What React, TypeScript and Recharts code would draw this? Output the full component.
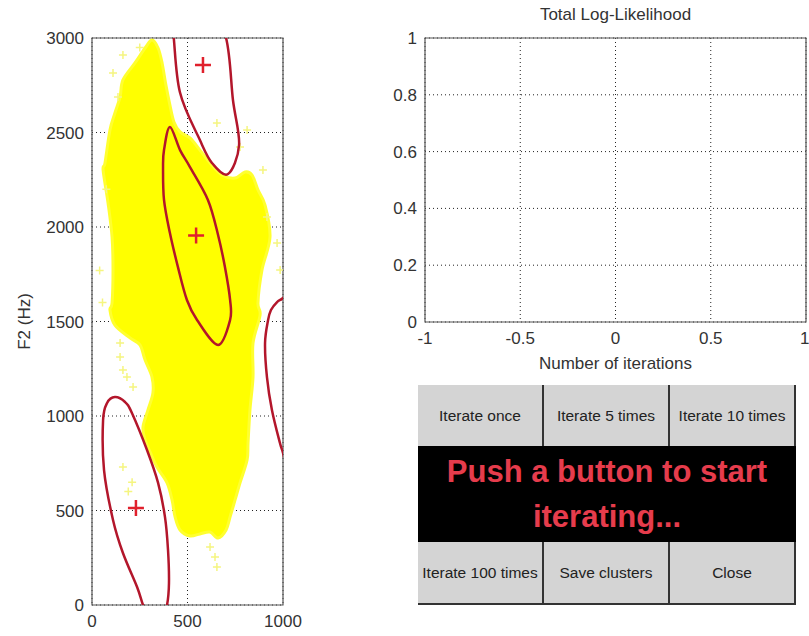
import { ScatterChart, Scatter, XAxis, YAxis, CartesianGrid, ReferenceArea } from 'recharts';

const f1Ticks = [0, 500, 1000];
const f2Ticks = [0, 500, 1000, 1500, 2000, 2500, 3000];
const iterTicks = [-1, -0.5, 0, 0.5, 1];
const llTicks = [0, 0.2, 0.4, 0.6, 0.8, 1];

// outline of the dense F1/F2 cloud (Hz)
const cloudOutline = [
  { f1: 314, f2: 2989 }, { f1: 346, f2: 2947 }, { f1: 367, f2: 2868 }, { f1: 387, f2: 2751 },
  { f1: 408, f2: 2645 }, { f1: 429, f2: 2556 }, { f1: 461, f2: 2503 }, { f1: 513, f2: 2471 },
  { f1: 565, f2: 2407 }, { f1: 618, f2: 2339 }, { f1: 681, f2: 2275 }, { f1: 749, f2: 2259 },
  { f1: 801, f2: 2291 }, { f1: 838, f2: 2275 }, { f1: 869, f2: 2196 }, { f1: 906, f2: 2116 },
  { f1: 932, f2: 1947 }, { f1: 890, f2: 1772 }, { f1: 869, f2: 1598 }, { f1: 880, f2: 1534 },
  { f1: 843, f2: 1386 }, { f1: 843, f2: 1206 }, { f1: 827, f2: 1032 }, { f1: 817, f2: 857 },
  { f1: 812, f2: 767 }, { f1: 775, f2: 646 }, { f1: 749, f2: 556 }, { f1: 723, f2: 466 },
  { f1: 702, f2: 397 }, { f1: 660, f2: 354 }, { f1: 618, f2: 386 }, { f1: 565, f2: 376 },
  { f1: 513, f2: 365 }, { f1: 461, f2: 397 }, { f1: 435, f2: 466 }, { f1: 419, f2: 556 },
  { f1: 393, f2: 646 }, { f1: 340, f2: 730 }, { f1: 304, f2: 810 }, { f1: 278, f2: 873 },
  { f1: 267, f2: 942 }, { f1: 293, f2: 1032 }, { f1: 319, f2: 1122 }, { f1: 314, f2: 1206 },
  { f1: 278, f2: 1296 }, { f1: 251, f2: 1376 }, { f1: 199, f2: 1413 }, { f1: 120, f2: 1481 },
  { f1: 94, f2: 1561 }, { f1: 105, f2: 1598 }, { f1: 110, f2: 1772 }, { f1: 105, f2: 1947 },
  { f1: 84, f2: 2127 }, { f1: 58, f2: 2302 }, { f1: 68, f2: 2339 }, { f1: 94, f2: 2513 },
  { f1: 120, f2: 2603 }, { f1: 147, f2: 2688 }, { f1: 162, f2: 2778 }, { f1: 225, f2: 2868 },
  { f1: 278, f2: 2947 },
];

// loose samples around the edge of the cloud
const strayPoints = [
  { f1: 110, f2: 2815 }, { f1: 162, f2: 2910 }, { f1: 136, f2: 2688 }, { f1: 654, f2: 2550 },
  { f1: 775, f2: 2423 }, { f1: 812, f2: 2513 }, { f1: 895, f2: 2302 }, { f1: 916, f2: 2053 },
  { f1: 969, f2: 1915 }, { f1: 985, f2: 1772 }, { f1: 40, f2: 1770 }, { f1: 55, f2: 1600 },
  { f1: 147, f2: 1386 }, { f1: 147, f2: 1312 }, { f1: 162, f2: 1243 }, { f1: 183, f2: 1206 },
  { f1: 215, f2: 1153 }, { f1: 162, f2: 730 }, { f1: 210, f2: 650 }, { f1: 190, f2: 600 },
  { f1: 618, f2: 307 }, { f1: 644, f2: 254 }, { f1: 654, f2: 201 }, { f1: 75, f2: 2200 },
  { f1: 250, f2: 2950 },
];

const clusterMeans = [
  { f1: 581, f2: 2857 },
  { f1: 545, f2: 1955 },
  { f1: 230, f2: 513 },
];

// cluster contours, points traced round each ellipse
const contour1 = [
  { f1: 712, f2: 2280 }, { f1: 770, f2: 2434 }, { f1: 738, f2: 2672 }, { f1: 702, f2: 3000 },
  { f1: 597, f2: 3254 }, { f1: 534, f2: 3375 }, { f1: 450, f2: 3434 }, { f1: 392, f2: 3280 },
  { f1: 424, f2: 3042 }, { f1: 460, f2: 2714 }, { f1: 565, f2: 2460 }, { f1: 628, f2: 2339 },
];
const contour2 = [
  { f1: 408, f2: 2529 }, { f1: 377, f2: 2407 }, { f1: 372, f2: 2317 }, { f1: 377, f2: 2143 },
  { f1: 408, f2: 1968 }, { f1: 450, f2: 1788 }, { f1: 497, f2: 1614 }, { f1: 550, f2: 1508 },
  { f1: 660, f2: 1376 }, { f1: 723, f2: 1508 }, { f1: 723, f2: 1614 }, { f1: 696, f2: 1788 },
  { f1: 660, f2: 1958 }, { f1: 607, f2: 2143 }, { f1: 513, f2: 2317 }, { f1: 461, f2: 2407 },
];
const contour3 = [
  { f1: 1000, f2: 1624 }, { f1: 969, f2: 1603 }, { f1: 937, f2: 1561 }, { f1: 922, f2: 1508 },
  { f1: 906, f2: 1386 }, { f1: 916, f2: 1206 }, { f1: 942, f2: 1032 }, { f1: 984, f2: 857 },
  { f1: 1000, f2: 804 }, { f1: 1040, f2: 650 }, { f1: 1100, f2: 600 }, { f1: 1160, f2: 800 },
  { f1: 1180, f2: 1200 }, { f1: 1140, f2: 1550 }, { f1: 1060, f2: 1680 },
];
const contour4 = [
  { f1: 120, f2: 1100 }, { f1: 173, f2: 1074 }, { f1: 209, f2: 1016 }, { f1: 288, f2: 820 },
  { f1: 346, f2: 646 }, { f1: 382, f2: 466 }, { f1: 398, f2: 291 }, { f1: 403, f2: 116 },
  { f1: 393, f2: 0 }, { f1: 367, f2: -80 }, { f1: 304, f2: -90 }, { f1: 267, f2: 0 },
  { f1: 236, f2: 95 }, { f1: 162, f2: 275 }, { f1: 110, f2: 450 }, { f1: 63, f2: 714 },
  { f1: 58, f2: 979 }, { f1: 79, f2: 1069 },
];

const logLikelihood: { iter: number; ll: number }[] = [];

const topButtons = ['Iterate once', 'Iterate 5 times', 'Iterate 10 times'];
const bottomButtons = ['Iterate 100 times', 'Save clusters', 'Close'];
const statusLines = ['Push a button to start', 'iterating...'];

const FONT = '"Liberation Sans", Arial, sans-serif';
const tickStyle = { fontSize: 17, fill: '#333', fontFamily: FONT };

// smooth closed curve through the pixel points
function closedPath(pts: { x: number; y: number }[]) {
  const n = pts.length;
  let d = `M${pts[0].x},${pts[0].y}`;
  for (let i = 0; i < n; i++) {
    const p0 = pts[(i - 1 + n) % n];
    const p1 = pts[i];
    const p2 = pts[(i + 1) % n];
    const p3 = pts[(i + 2) % n];
    d += ` C${p1.x + (p2.x - p0.x) / 6},${p1.y + (p2.y - p0.y) / 6} ${p2.x - (p3.x - p1.x) / 6},${p2.y - (p3.y - p1.y) / 6} ${p2.x},${p2.y}`;
  }
  return d + 'Z';
}

const plus = (color: string, half: number, w: number) => (p: any) => (
  <path d={`M${p.cx - half},${p.cy}h${half * 2}M${p.cx},${p.cy - half}v${half * 2}`} stroke={color} strokeWidth={w} fill="none" />
);
const noDot = () => <g />;
const contourLine = (p: any) => <path d={closedPath(p.points)} fill="none" stroke="#b3162b" strokeWidth={2.5} />;
const cloudFill = (p: any) => <path d={closedPath(p.points)} fill="#ffff00" stroke="#ffff30" strokeWidth={3} />;

function Button({ label, bottom }: { label: string; bottom?: boolean }) {
  return (
    <div
      style={{
        flex: 1,
        background: '#d4d4d4',
        borderRight: '2px solid #333',
        borderBottom: bottom ? '2px solid #333' : 'none',
        display: 'flex',
        alignItems: 'center',
        justifyContent: 'center',
        fontSize: 15.5,
        color: '#222',
        whiteSpace: 'nowrap',
        boxSizing: 'border-box',
      }}
    >
      {label}
    </div>
  );
}

export default function App() {
  return (
    <div style={{ position: 'absolute', left: 0, top: 0, width: 809, height: 636, overflow: 'hidden', background: '#fff', fontFamily: FONT }}>
      <div style={{ position: 'absolute', left: 0, top: 0 }}>
        <ScatterChart width={320} height={636} margin={{ top: 38, right: 37, bottom: 6, left: 0 }}>
          <CartesianGrid stroke="#222" strokeDasharray="1 3" />
          <XAxis type="number" dataKey="f1" domain={[0, 1000]} ticks={f1Ticks} allowDataOverflow height={25} tickLine={false} axisLine={false} tickMargin={4} tick={tickStyle} />
          <YAxis
            type="number"
            dataKey="f2"
            domain={[0, 3000]}
            ticks={f2Ticks}
            allowDataOverflow
            width={92}
            tickLine={false}
            axisLine={false}
            tick={tickStyle}
            label={{ value: 'F2 (Hz)', angle: -90, position: 'insideLeft', offset: 24, style: { textAnchor: 'middle', fontSize: 17, fill: '#333', fontFamily: FONT } }}
          />
          <Scatter data={cloudOutline} shape={noDot} line={cloudFill} isAnimationActive={false} />
          <Scatter data={strayPoints} shape={plus('#f5f580', 4, 1.5)} isAnimationActive={false} />
          <Scatter data={contour1} shape={noDot} line={contourLine} isAnimationActive={false} />
          <Scatter data={contour2} shape={noDot} line={contourLine} isAnimationActive={false} />
          <Scatter data={contour3} shape={noDot} line={contourLine} isAnimationActive={false} />
          <Scatter data={contour4} shape={noDot} line={contourLine} isAnimationActive={false} />
          <Scatter data={clusterMeans} shape={plus('#e0202c', 8, 2.5)} isAnimationActive={false} />
          <ReferenceArea x1={0} x2={1000} y1={0} y2={3000} fill="none" stroke="#555" strokeWidth={1.2} />
        </ScatterChart>
      </div>

      <div style={{ position: 'absolute', left: 425, top: 5, width: 381, textAlign: 'center', fontSize: 17, color: '#333' }}>
        Total Log-Likelihood
      </div>

      <div style={{ position: 'absolute', left: 340, top: 0 }}>
        <ScatterChart width={469} height={380} margin={{ top: 38, right: 3, bottom: 0, left: 0 }}>
          <CartesianGrid stroke="#222" strokeDasharray="1 3" />
          <XAxis
            type="number"
            dataKey="iter"
            domain={[-1, 1]}
            ticks={iterTicks}
            allowDataOverflow
            height={58}
            tickLine={false}
            axisLine={false}
            tickMargin={4}
            tick={tickStyle}
            label={{ value: 'Number of iterations', position: 'insideBottom', offset: 11, fontSize: 17, fill: '#333', fontFamily: FONT }}
          />
          <YAxis type="number" dataKey="ll" domain={[0, 1]} ticks={llTicks} allowDataOverflow width={85} tickLine={false} axisLine={false} tick={tickStyle} />
          <Scatter data={logLikelihood} fill="#00f" isAnimationActive={false} />
          <ReferenceArea x1={-1} x2={1} y1={0} y2={1} fill="none" stroke="#555" strokeWidth={1.2} />
        </ScatterChart>
      </div>

      <div style={{ position: 'absolute', left: 418, top: 385, width: 378, height: 220, display: 'flex', flexDirection: 'column' }}>
        <div style={{ display: 'flex', height: 61 }}>
          {topButtons.map((b) => (
            <Button key={b} label={b} />
          ))}
        </div>
        <div
          style={{
            height: 96,
            background: '#000',
            color: '#e63c4c',
            fontWeight: 'bold',
            fontSize: 31,
            display: 'flex',
            flexDirection: 'column',
            alignItems: 'center',
            justifyContent: 'center',
            lineHeight: '45px',
          }}
        >
          {statusLines.map((s) => (
            <div key={s}>{s}</div>
          ))}
        </div>
        <div style={{ display: 'flex', height: 63 }}>
          {bottomButtons.map((b) => (
            <Button key={b} label={b} bottom />
          ))}
        </div>
      </div>
    </div>
  );
}
